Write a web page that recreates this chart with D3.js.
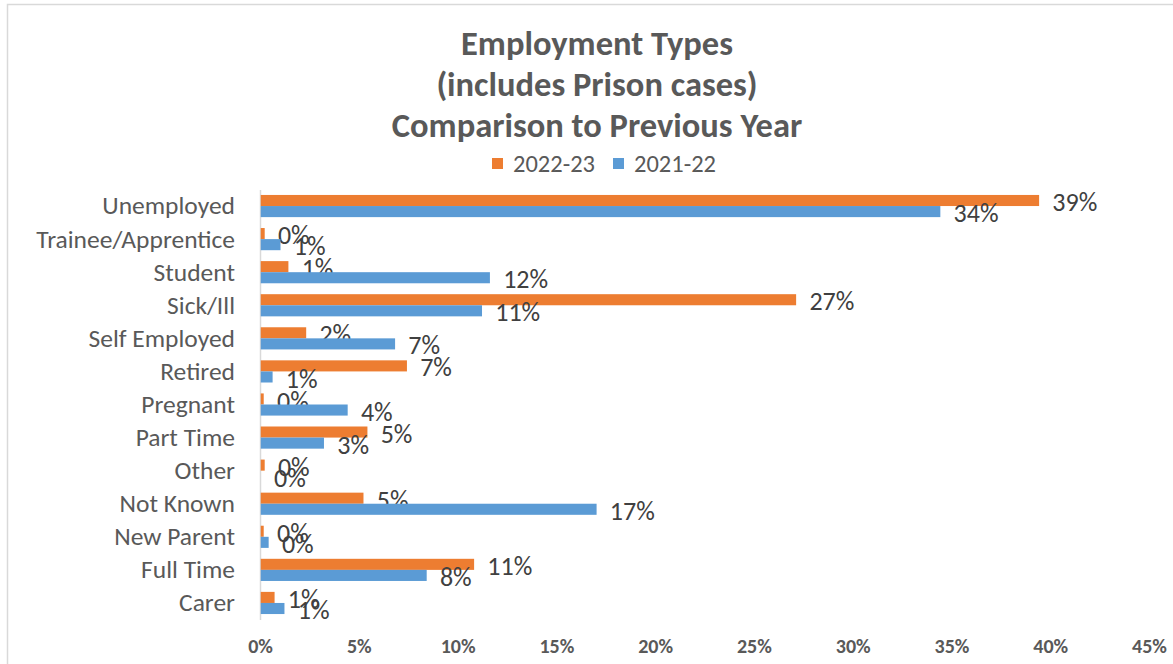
<!DOCTYPE html>
<html>
<head>
<meta charset="utf-8">
<script src="https://cdn.jsdelivr.net/npm/d3@7"></script>
<style>
  html, body { margin: 0; padding: 0; background: #fff; }
  svg { display: block; }
  text { font-family: Carlito, "Liberation Sans Narrow", "DejaVu Sans Condensed", "Open Sans", sans-serif; }
</style>
</head>
<body>
<svg id="chart" width="1173" height="664"></svg>
<script>
// Employment categories, top to bottom
const categories = [
  "Unemployed", "Trainee/Apprentice", "Student", "Sick/Ill", "Self Employed",
  "Retired", "Pregnant", "Part Time", "Other", "Not Known", "New Parent",
  "Full Time", "Carer"
];
// Share of cases (%) per year
const values2022_23 = [39.4, 0.2, 1.4, 27.1, 2.3, 7.4, 0.15, 5.4, 0.2, 5.2, 0.15, 10.8, 0.7];
const values2021_22 = [34.4, 1.0, 11.6, 11.2, 6.8, 0.6, 4.4, 3.2, 0.0, 17.0, 0.4, 8.4, 1.2];
const seriesNames = ["2022-23", "2021-22"];
const seriesColors = ["#ED7D31", "#5B9BD5"];
const xTicks = [0, 5, 10, 15, 20, 25, 30, 35, 40, 45];
const titleLines = ["Employment Types", "(includes Prison cases)", "Comparison to Previous Year"];

const svg = d3.select("#chart");

// chart frame
svg.append("rect")
  .attr("x", 7.5).attr("y", 4.5)
  .attr("width", 1200).attr("height", 700)
  .attr("fill", "none").attr("stroke", "#d9d9d9").attr("stroke-width", 1.5);

const x = d3.scaleLinear().domain([0, 45]).range([260, 1149]);
const y = d3.scaleBand().domain(categories).range([189.5, 619.5])
  .paddingInner(0.33).paddingOuter(0.165);
const ySeries = d3.scaleBand().domain(seriesNames).range([0, y.bandwidth()]);

// title
svg.append("g").selectAll("text").data(titleLines).join("text")
  .attr("x", 597).attr("y", (d, i) => 55 + i * 41)
  .attr("text-anchor", "middle")
  .attr("font-size", 34.5).attr("font-weight", "bold").attr("fill", "#595959")
  .text(d => d);

// legend
const legend = svg.append("g");
const legendX = [492, 613];
seriesNames.forEach((name, i) => {
  legend.append("rect")
    .attr("x", legendX[i]).attr("y", 158).attr("width", 11).attr("height", 11)
    .attr("fill", seriesColors[i]);
  legend.append("text")
    .attr("x", legendX[i] + 21).attr("y", 171.5)
    .attr("font-size", 24.5).attr("fill", "#595959")
    .text(name);
});

// x axis labels
const xAxis = d3.axisBottom(x).tickValues(xTicks).tickSize(0).tickFormat(d => d + "%");
const xg = svg.append("g").attr("transform", "translate(0,636)").call(xAxis);
xg.select(".domain").remove();
xg.selectAll("text").attr("font-size", 20).attr("font-weight", "bold").attr("fill", "#595959")
  .style("font-family", null);

// category axis
const yAxis = d3.axisLeft(y).tickSize(0).tickPadding(25);
const yg = svg.append("g").attr("transform", "translate(260,0)").call(yAxis);
yg.select(".domain").attr("stroke", "#d9d9d9").attr("stroke-width", 1.5);
yg.selectAll("text").attr("font-size", 25.5).attr("fill", "#595959").attr("dy", "0.33em")
  .style("font-family", null);

// bars with value labels
const series = [values2022_23, values2021_22];
const barsG = svg.append("g");
series.forEach((vals, si) => {
  barsG.selectAll(null).data(categories).join("rect")
    .attr("x", x(0) + 0.75)
    .attr("y", c => y(c) + ySeries(seriesNames[si]))
    .attr("width", (c, i) => Math.max(0, x(vals[i]) - x(0)))
    .attr("height", ySeries.bandwidth())
    .attr("fill", seriesColors[si]);

  barsG.selectAll(null).data(categories).join("text")
    .attr("x", (c, i) => x(vals[i]) + 14)
    .attr("y", c => y(c) + ySeries(seriesNames[si]) + ySeries.bandwidth() / 2 + 1.5)
    .attr("dy", "0.35em")
    .attr("font-size", 26).attr("fill", "#404040")
    .text((c, i) => Math.round(vals[i]) + "%");
});
</script>
</body>
</html>
